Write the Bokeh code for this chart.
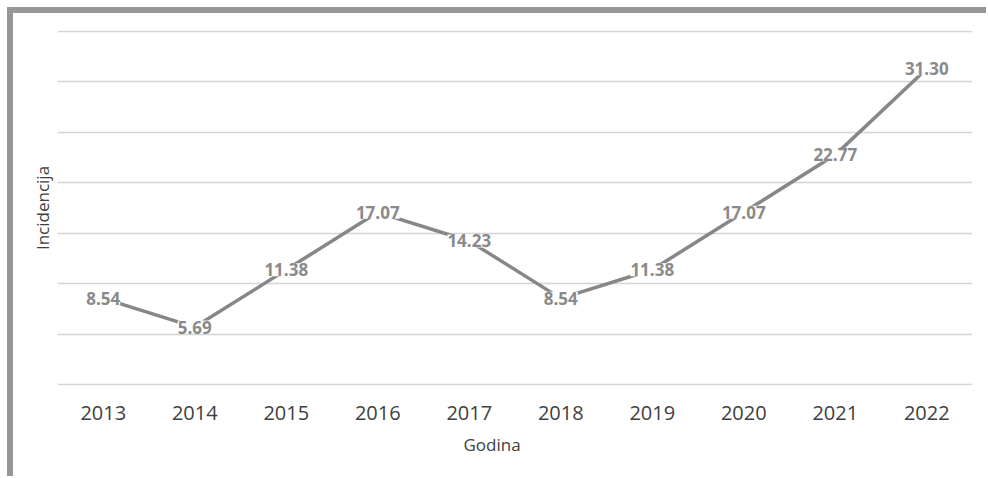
from bokeh.plotting import figure
from bokeh.models import ColumnDataSource, LabelSet, FixedTicker, FactorRange, Range1d, Title
from bokeh.core.properties import value
from bokeh.embed import file_html
from bokeh.resources import INLINE

years = ["2013", "2014", "2015", "2016", "2017", "2018", "2019", "2020", "2021", "2022"]
incidence = [8.54, 5.69, 11.38, 17.07, 14.23, 8.54, 11.38, 17.07, 22.77, 31.30]
labels = ["%.2f" % v for v in incidence]
grid_ticks = [0, 5, 10, 15, 20, 25, 30, 35]

src = ColumnDataSource(dict(x=years, y=incidence, lab=labels))

p = figure(width=979, height=469, x_range=FactorRange(*years), y_range=Range1d(-0.1, 35.1),
           output_backend="svg", toolbar_location=None,
           min_border_left=44, min_border_right=20, min_border_top=17, min_border_bottom=97)
p.styles = {"border-top": "6px solid #979797", "border-left": "6px solid #979797",
            "margin-left": "7px", "margin-top": "7px"}
p.outline_line_color = None
p.background_fill_color = "white"
p.border_fill_color = "white"

p.xgrid.grid_line_color = None
p.ygrid.ticker = FixedTicker(ticks=grid_ticks)
p.ygrid.grid_line_color = "#d4d4d4"
p.ygrid.grid_line_width = 1.5

p.line(x="x", y="y", source=src, line_color="#878787", line_width=3.5)

lbl = LabelSet(x="x", y="y", text="lab", source=src, text_align="center", text_baseline="middle",
               text_font=value("Open Sans"), text_font_style="bold", text_font_size="17px",
               text_color="#8a8a8a", background_fill_color="white")
p.add_layout(lbl)

xa = p.xaxis[0]
xa.axis_line_color = None
xa.major_tick_line_color = None
xa.minor_tick_line_color = None
xa.major_tick_out = 0
xa.major_label_standoff = 20
xa.major_label_text_font = "Open Sans"
xa.major_label_text_font_size = "20px"
xa.major_label_text_color = "#404040"

xtitle = Title(text="Godina", align="left", offset=406, standoff=16,
               text_font="Open Sans", text_font_size="17px", text_font_style="normal",
               text_color="#404040")
p.add_layout(xtitle, "below")

ya = p.yaxis[0]
ya.ticker = FixedTicker(ticks=[])
ya.axis_line_color = None
ya.major_tick_line_color = None
ya.minor_tick_line_color = None
ya.major_tick_out = 0
ya.major_label_standoff = 0
ya.axis_label = "Incidencija"
ya.axis_label_text_font = "Open Sans"
ya.axis_label_text_font_size = "17px"
ya.axis_label_text_font_style = "normal"
ya.axis_label_text_color = "#404040"
ya.axis_label_standoff = 4

open("out.html", "w").write(file_html(p, INLINE))
